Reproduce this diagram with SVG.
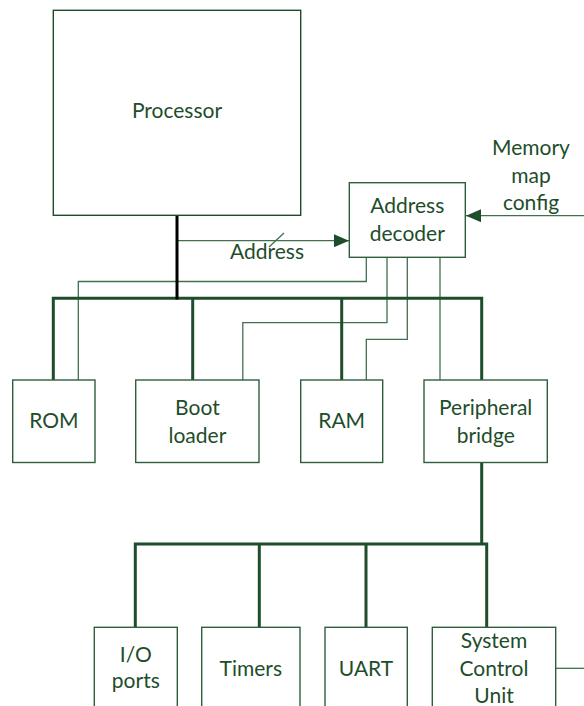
<svg xmlns="http://www.w3.org/2000/svg" width="584" height="706" viewBox="0 0 584 706">
<style>
.box{fill:#fff;stroke:#2f5e3d;stroke-width:1.4}
.thin{fill:none;stroke:#41704f;stroke-width:1.3}
.bus{fill:none;stroke:#1e4d2b;stroke-width:3}
text{font-family:Lato,"Open Sans","Liberation Sans",sans-serif;font-size:21px;fill:#1e4d2b;text-anchor:middle}
</style>
<defs>
<marker id="ah" markerWidth="15" markerHeight="13" refX="15" refY="6.5" orient="auto" markerUnits="userSpaceOnUse">
<path d="M0,0 L15,6.5 L0,13 Z" fill="#1e4d2b"/>
</marker>
</defs>
<g id="connectors">
<path class="thin" d="M177,240.7 H349" marker-end="url(#ah)"/>
<path class="thin" d="M269,247 L284,233"/>
<path class="thin" d="M584,215.7 H466" marker-end="url(#ah)"/>
<path class="thin" d="M366.3,257 V281.5 H78.3 V380"/>
<path class="thin" d="M387,257 V322.7 H242.8 V380"/>
<path class="thin" d="M407.3,257 V339.3 H366.3 V380"/>
<path class="thin" d="M440,257 V380"/>
<path class="bus" d="M53.3,380 V298.3 H481.7 V380"/>
<path class="bus" d="M192.7,298.3 V380"/>
<path class="bus" d="M341.7,298.3 V380"/>
<path class="bus" d="M481.7,462 V544 M135.3,627 V544 H486.7 V627"/>
<path class="bus" d="M259.3,544 V627"/>
<path class="bus" d="M366,544 V627"/>
<path class="thin" d="M556,668.3 H584"/>
<path d="M177,215 V299.5" fill="none" stroke="#000" stroke-width="3"/>
</g>
<g id="processor"><rect class="box" x="53.3" y="10.3" width="247.4" height="205" style="stroke:#1e4d2b"/><text x="177" y="118">Processor</text></g>
<g id="address-decoder"><rect class="box" x="349.3" y="182.7" width="116" height="74.6"/><text x="407.3" y="213.3">Address</text><text x="407.3" y="240.7">decoder</text></g>
<g id="memory-map-config"><text x="531" y="155">Memory</text><text x="531" y="182.5">map</text><text x="531" y="209.5">config</text></g>
<text x="267" y="259.3">Address</text>
<g id="rom"><rect class="box" x="12.7" y="380" width="82.3" height="82.5"/><text x="53.8" y="428">ROM</text></g>
<g id="boot-loader"><rect class="box" x="135.7" y="380" width="123.3" height="82.5"/><text x="197.4" y="415">Boot</text><text x="197.4" y="442.5">loader</text></g>
<g id="ram"><rect class="box" x="300.7" y="380" width="82" height="82.5"/><text x="341.7" y="428">RAM</text></g>
<g id="peripheral-bridge"><rect class="box" x="424" y="380" width="123.3" height="82.5"/><text x="485.7" y="415">Peripheral</text><text x="485.7" y="442.5">bridge</text></g>
<g id="io-ports"><rect class="box" x="94.3" y="627.3" width="83" height="90"/><text x="135.8" y="661.7">I/O</text><text x="135.8" y="688.3">ports</text></g>
<g id="timers"><rect class="box" x="201.7" y="627.3" width="98.3" height="90"/><text x="250.8" y="675.7">Timers</text></g>
<g id="uart"><rect class="box" x="325" y="627.3" width="82.3" height="90"/><text x="366" y="675.7">UART</text></g>
<g id="system-control-unit"><rect class="box" x="432.3" y="627.3" width="123.4" height="90"/><text x="494" y="648.3">System</text><text x="494" y="675.7">Control</text><text x="494" y="703.3">Unit</text></g>
</svg>
